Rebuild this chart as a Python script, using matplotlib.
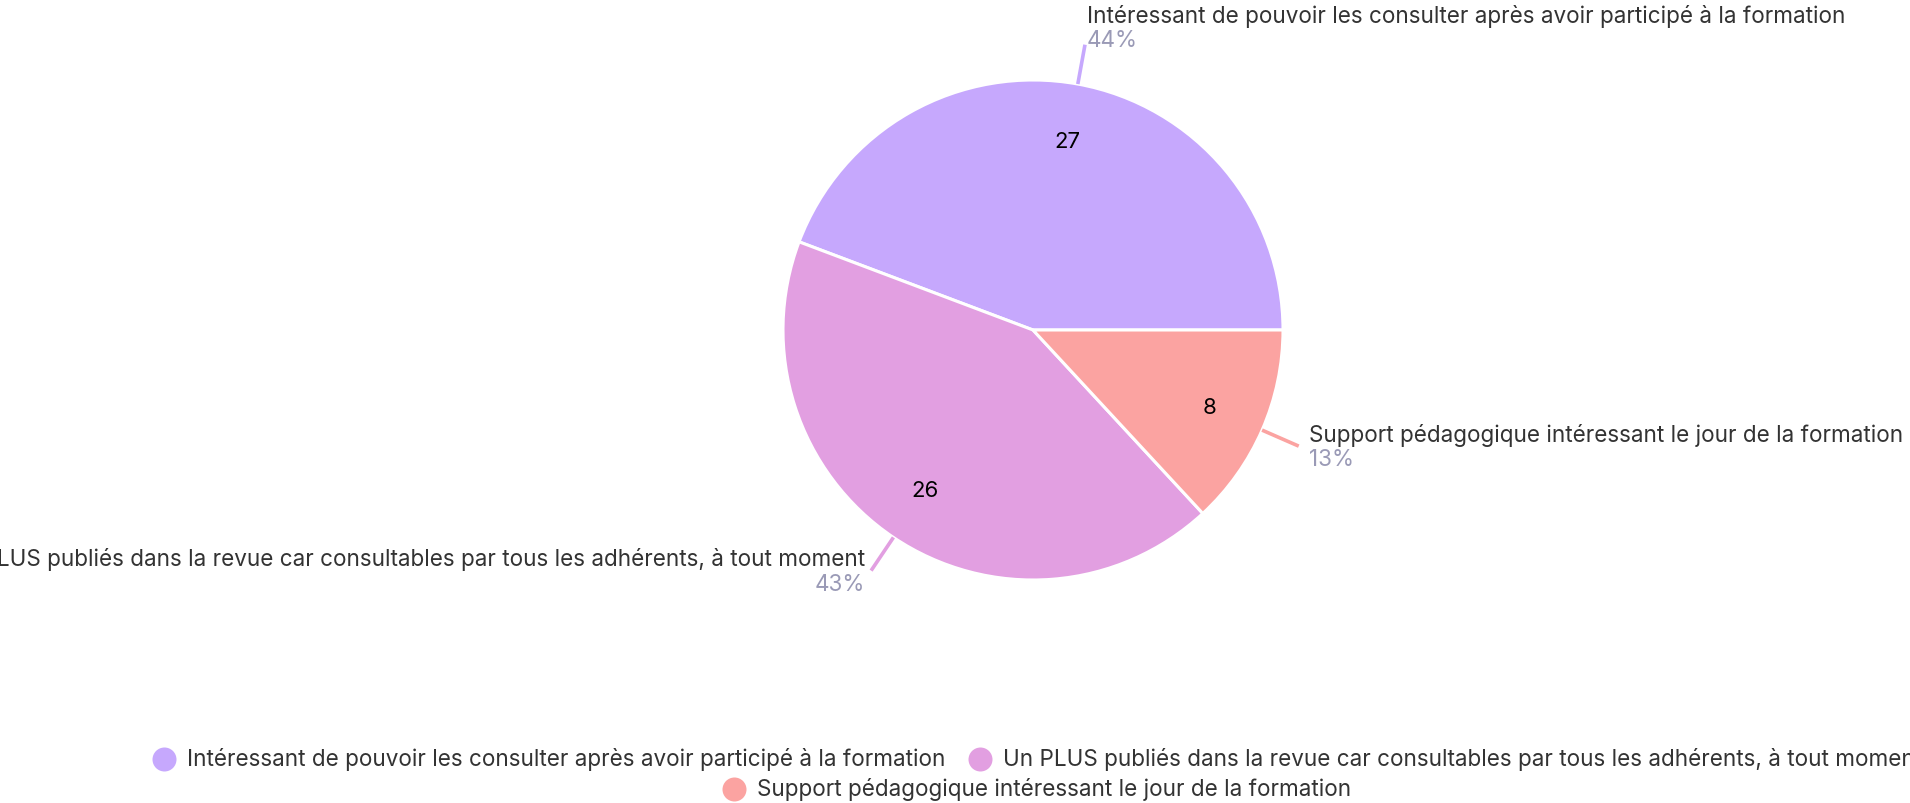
import numpy as np
import matplotlib
matplotlib.use("Agg")
import matplotlib.pyplot as plt
from matplotlib.lines import Line2D

# ---- data ----
categories = [
    "Intéressant de pouvoir les consulter après avoir participé à la formation",
    "Un PLUS publiés dans la revue car consultables par tous les adhérents, à tout moment",
    "Support pédagogique intéressant le jour de la formation",
]
counts = [27, 26, 8]
percent_labels = ["44%", "43%", "13%"]
colors = ["#C6A8FD", "#E29FE1", "#FBA3A1"]

FONT = "Inter"
plt.rcParams["font.family"] = [FONT, "DejaVu Sans"]

W, H = 1910, 804
DPI = 100
fig = plt.figure(figsize=(W / DPI, H / DPI), dpi=DPI)
fig.patch.set_facecolor("white")

cx, cy, R = 1033, 331, 250  # pixel geometry (top-left origin)
ax = fig.add_axes([(cx - R) / W, (H - cy - R) / H, 2 * R / W, 2 * R / H])
ax.axis("off")

wedges, texts = ax.pie(
    counts, colors=colors, startangle=0, counterclock=True, radius=1.0,
    labels=[str(c) for c in counts], labeldistance=0.77,
    wedgeprops=dict(edgecolor="white", linewidth=2.2),
    textprops=dict(fontsize=16, color="black", ha="center", va="center"),
)
ax.set_xlim(-1, 1)
ax.set_ylim(-1, 1)
ax.set_aspect("equal")

label_color = "#333333"
pct_color = "#9A9AB6"
fs = 16.2

for w, lab, pct, col in zip(wedges, categories, percent_labels, colors):
    ang = np.deg2rad((w.theta1 + w.theta2) / 2)
    c, s = np.cos(ang), np.sin(ang)
    p0 = (1.0 * c, 1.0 * s)
    p1 = (1.16 * c, 1.16 * s)
    ax.plot([p0[0], p1[0]], [p0[1], p1[1]], color=col, lw=2.6,
            solid_capstyle="butt", clip_on=False)
    right = c >= 0
    ha = "left" if right else "right"
    if s > 0.9:
        dx = 2
        dy_lab, dy_pct = 29, 5
    else:
        dx = 10 if right else -6
        dy_lab, dy_pct = 12, -13
    ax.annotate(lab, xy=p1, xytext=(dx, dy_lab), textcoords="offset pixels",
                ha=ha, va="center", fontsize=fs, color=label_color,
                annotation_clip=False)
    ax.annotate(pct, xy=p1, xytext=(dx, dy_pct), textcoords="offset pixels",
                ha=ha, va="center", fontsize=fs, color=pct_color,
                annotation_clip=False)

# ---- legend (manual, centred rows) ----
fig.canvas.draw()
renderer = fig.canvas.get_renderer()

def text_width(t):
    tt = fig.text(0, 0, t, fontsize=fs)
    bb = tt.get_window_extent(renderer=renderer)
    tt.remove()
    return bb.width

legend_center_x = 1037
rows = [[0, 1], [2]]
row_y = [760, 790]
marker_d = 24
pad = 11
gap = 22
for row, y in zip(rows, row_y):
    widths = [marker_d + pad + text_width(categories[i]) for i in row]
    total = sum(widths) + gap * (len(row) - 1)
    x = legend_center_x - total / 2
    for i, wdt in zip(row, widths):
        yy = (H - y) / H
        fig.add_artist(Line2D([(x + marker_d / 2) / W], [yy], marker="o",
                              markersize=marker_d * 72 / DPI, color=colors[i],
                              markeredgewidth=0,
                              linestyle="none", transform=fig.transFigure))
        fig.text((x + marker_d + pad) / W, yy, categories[i], fontsize=fs,
                 color=label_color, ha="left", va="center")
        x += wdt + gap

fig.savefig("out.png", dpi=DPI)
